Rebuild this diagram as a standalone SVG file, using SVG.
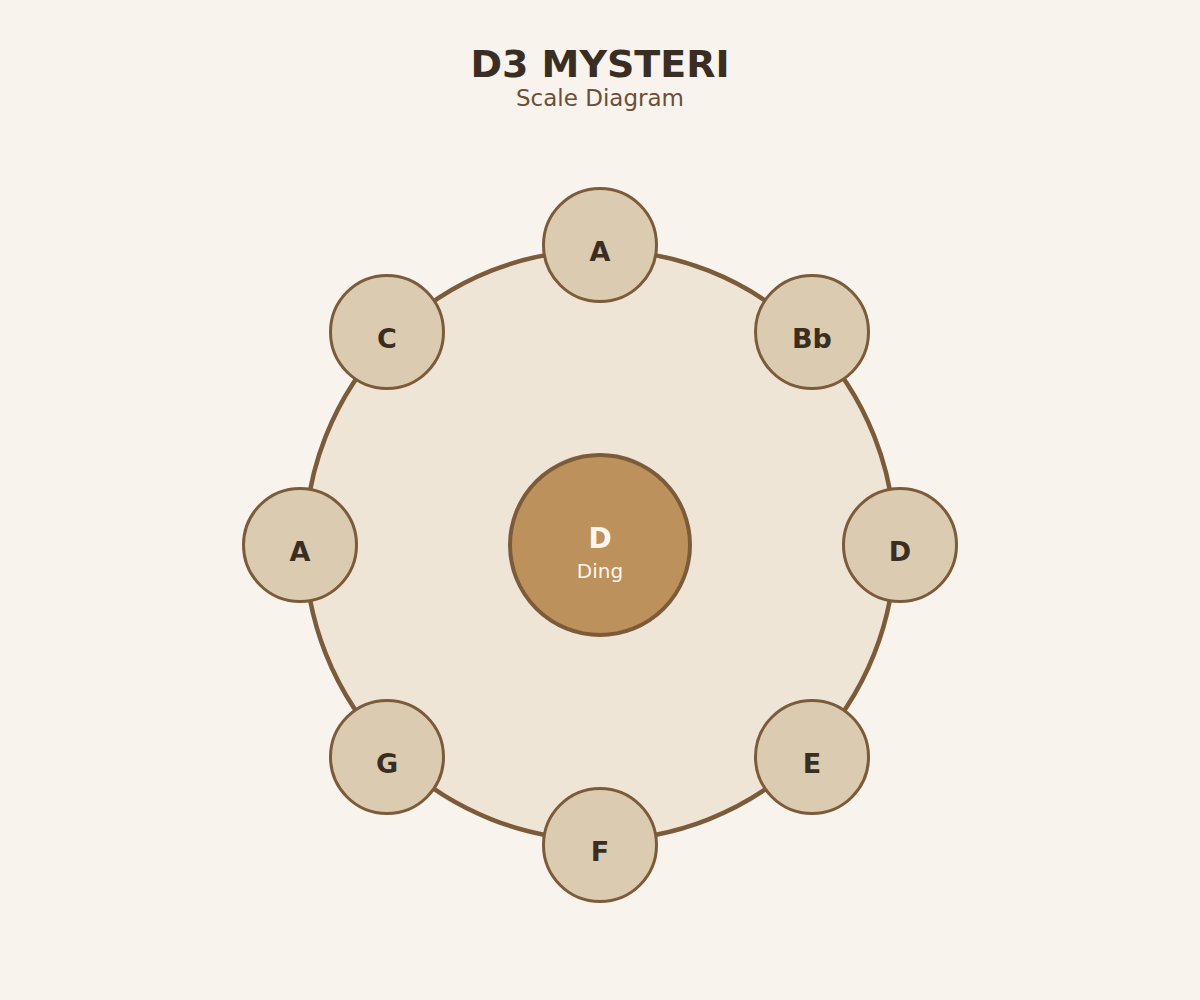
<svg xmlns="http://www.w3.org/2000/svg" width="1200" height="1000" viewBox="0 0 1200 1000">
<style>
.note circle{fill:#dbcbb1;stroke:#7b5b3a;stroke-width:3}
.note text{font-family:"DejaVu Sans",sans-serif;font-weight:bold;font-size:27px;fill:#3a2d22;text-anchor:middle}
</style>
<rect width="1200" height="1000" fill="#f8f3ed"/>
<text x="600" y="77" text-anchor="middle" font-family="DejaVu Sans, sans-serif" font-weight="bold" font-size="38" fill="#3a2d22">D3 MYSTERI</text>
<text x="600" y="106" text-anchor="middle" font-family="DejaVu Sans, sans-serif" font-size="23" fill="#6b4f36">Scale Diagram</text>
<g id="body"><circle cx="600" cy="545" r="295" fill="#efe5d6" stroke="#7b5b3a" stroke-width="4.5"/></g>
<g id="connectors"></g>
<g id="ding">
<circle cx="600" cy="545" r="90" fill="#bd915b" stroke="#7b5b3a" stroke-width="4"/>
<text x="600" y="548" text-anchor="middle" font-family="DejaVu Sans, sans-serif" font-weight="bold" font-size="28" fill="#fdf7ee">D</text>
<text x="600" y="578" text-anchor="middle" font-family="DejaVu Sans, sans-serif" font-size="20" fill="#fdf7ee">Ding</text>
</g>
<g id="n1" class="note"><circle cx="600" cy="245" r="56.5"/><text x="600" y="261">A</text></g>
<g id="n2" class="note"><circle cx="812" cy="332" r="56.5"/><text x="812" y="348">Bb</text></g>
<g id="n3" class="note"><circle cx="900" cy="545" r="56.5"/><text x="900" y="561">D</text></g>
<g id="n4" class="note"><circle cx="812" cy="757" r="56.5"/><text x="812" y="773">E</text></g>
<g id="n5" class="note"><circle cx="600" cy="845" r="56.5"/><text x="600" y="861">F</text></g>
<g id="n6" class="note"><circle cx="387" cy="757" r="56.5"/><text x="387" y="773">G</text></g>
<g id="n7" class="note"><circle cx="300" cy="545" r="56.5"/><text x="300" y="561">A</text></g>
<g id="n8" class="note"><circle cx="387" cy="332" r="56.5"/><text x="387" y="348">C</text></g>
</svg>
